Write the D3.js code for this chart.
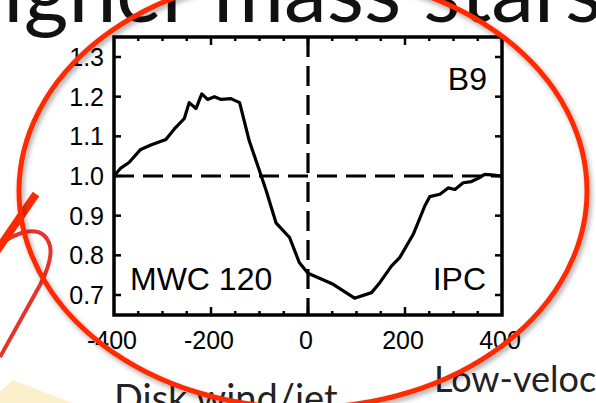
<!DOCTYPE html>
<html><head><meta charset="utf-8">
<script src="https://cdn.jsdelivr.net/npm/d3@7"></script>
<style>html,body{margin:0;padding:0;background:#fff;overflow:hidden}</style>
</head><body>
<svg id="c" width="596" height="403"></svg>
<script>
// ---- data ----
const velocity = [-400,-386,-369,-345,-324,-293,-276,-255,-245,-231,-219,-207,-193,-179,-159,-141,-121,-100,-86,-66,-38,-18,0,52,96,131,148,172,189,217,241,251,272,289,303,320,337,354,364,378,400];
const flux =     [1.000,1.020,1.034,1.067,1.078,1.092,1.118,1.145,1.185,1.170,1.207,1.193,1.200,1.193,1.195,1.185,1.088,1.013,0.962,0.882,0.845,0.782,0.755,0.727,0.692,0.706,0.731,0.773,0.794,0.853,0.925,0.948,0.954,0.970,0.966,0.983,0.986,0.996,1.004,1.003,1.000];
const xTicks = [-400,-200,0,200,400];
const yTicks = [0.7,0.8,0.9,1.0,1.1,1.2,1.3];
const starName = "MWC 120";
const specType = "B9";
const profileType = "IPC";
const titleText = "Higher mass stars";
const noteLeft = "Disk wind/jet";
const noteRight = "Low-velocity";

const svg = d3.select("#c");
const defs = svg.append("defs");
const f = defs.append("filter").attr("id","sh").attr("x","-20%").attr("y","-20%").attr("width","140%").attr("height","140%");
f.append("feDropShadow").attr("dx",2).attr("dy",3).attr("stdDeviation",2.5).attr("flood-color","#000").attr("flood-opacity",0.35);

const x = d3.scaleLinear().domain([-400,400]).range([114,502]);
const y = d3.scaleLinear().domain([0.7,1.3]).range([295,57]);
const yTop = y.invert(37), yBot = y.invert(315);

// background decorations
svg.append("path").attr("d","M0,403 L0,392 L13,380 L72,403 Z").attr("fill","#fcefcb");

// title
svg.append("text").attr("x",-62).attr("y",22).attr("font-family","Lato, 'Open Sans', sans-serif")
  .attr("font-size",86).attr("fill","#111").text(titleText);

// bottom notes
svg.append("text").attr("x",114).attr("y",412).attr("font-family","Lato, 'Open Sans', sans-serif")
  .attr("font-size",38).attr("fill","#222").text(noteLeft);
svg.append("text").attr("x",434).attr("y",392).attr("font-family","Lato, 'Open Sans', sans-serif")
  .attr("font-size",36).attr("fill","#222").text(noteRight);

// chart
const g = svg.append("g");
const font = "'Liberation Sans', Arial, Helvetica, sans-serif";

// dashed reference lines
g.append("line").attr("x1",x(-400)).attr("x2",x(400)).attr("y1",y(1)).attr("y2",y(1))
  .attr("stroke","#000").attr("stroke-width",3.2).attr("stroke-dasharray","20,9");
g.append("line").attr("x1",x(0)).attr("x2",x(0)).attr("y1",y(yTop)).attr("y2",y(yBot))
  .attr("stroke","#000").attr("stroke-width",3.2).attr("stroke-dasharray","20,9");

// curve
const line = d3.line().x((d,i)=>x(velocity[i])).y((d,i)=>y(flux[i]));
g.append("path").datum(flux).attr("d",line).attr("fill","none").attr("stroke","#000")
  .attr("stroke-width",3.2).attr("stroke-linejoin","round");

// ticks
const minorX = d3.range(-350,400,50);
minorX.forEach(v=>{
  const len = (v%200===0)?8:4;
  g.append("line").attr("x1",x(v)).attr("x2",x(v)).attr("y1",y(yTop)).attr("y2",y(yTop)+len).attr("stroke","#000").attr("stroke-width",2.5);
  g.append("line").attr("x1",x(v)).attr("x2",x(v)).attr("y1",y(yBot)).attr("y2",y(yBot)-len).attr("stroke","#000").attr("stroke-width",2.5);
});
yTicks.forEach(v=>{
  g.append("line").attr("x1",x(-400)).attr("x2",x(-400)+7).attr("y1",y(v)).attr("y2",y(v)).attr("stroke","#000").attr("stroke-width",2.5);
  g.append("line").attr("x1",x(400)).attr("x2",x(400)-7).attr("y1",y(v)).attr("y2",y(v)).attr("stroke","#000").attr("stroke-width",2.5);
});

// frame
g.append("rect").attr("x",x(-400)).attr("y",y(yTop)).attr("width",x(400)-x(-400)).attr("height",y(yBot)-y(yTop))
  .attr("fill","none").attr("stroke","#000").attr("stroke-width",3.5);

// tick labels
g.selectAll(".yl").data(yTicks).join("text").attr("x",104).attr("y",d=>y(d)+9)
  .attr("text-anchor","end").attr("font-family",font).attr("font-size",25).attr("fill","#000").text(d=>d.toFixed(1));
g.selectAll(".xl").data(xTicks).join("text").attr("x",d=>x(d)-2).attr("y",349)
  .attr("text-anchor","middle").attr("font-family",font).attr("font-size",25).attr("fill","#000").text(d=>d);

// annotations
g.append("text").attr("x",487).attr("y",90).attr("text-anchor","end").attr("font-family",font).attr("font-size",32).text(specType);
g.append("text").attr("x",130).attr("y",290).attr("font-family",font).attr("font-size",32).text(starName);
g.append("text").attr("x",486).attr("y",290).attr("text-anchor","end").attr("font-family",font).attr("font-size",32).text(profileType);

// red marks on left
svg.append("path").attr("d","M0,357 L40,285 Q53,260 50,246 Q45,228 25,232 Q10,236 -2,246")
  .attr("fill","none").attr("stroke","#e5352b").attr("stroke-width",4);
svg.append("line").attr("x1",-4).attr("y1",252).attr("x2",36).attr("y2",194)
  .attr("stroke","#ff2a00").attr("stroke-width",8);

// red ellipse
svg.append("ellipse").attr("cx",303).attr("cy",191).attr("rx",284).attr("ry",217)
  .attr("fill","none").attr("stroke","#ff2a00").attr("stroke-width",5).attr("filter","url(#sh)");
</script>
</body></html>
